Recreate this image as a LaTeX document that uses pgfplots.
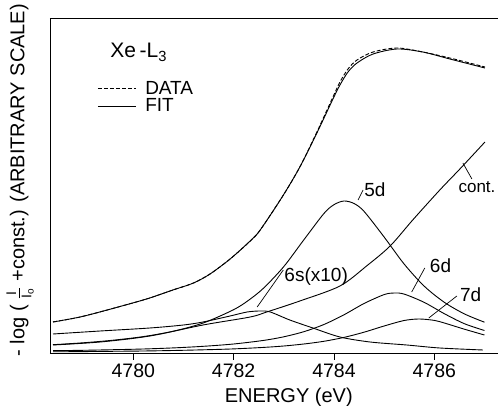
\documentclass[border=0pt]{standalone}
\usepackage{fontspec}
\setmainfont{Liberation Sans}
\usepackage{pgfplots}
\pgfplotsset{compat=1.18}
\newcommand{\fs}[1]{\fontsize{#1}{#1}\selectfont}
\begin{document}
\begin{tikzpicture}
\useasboundingbox (-50pt,-53pt) rectangle (448pt,353pt);
\begin{axis}[
  scale only axis, width=448pt, height=335pt,
  xmin=4778.34, xmax=4787.27, ymin=0, ymax=335,
  axis x line*=box, axis y line*=left,
  axis line style={line width=0.8pt},
  xtick={4780,4782,4784,4786}, xtick pos=bottom,
  tick align=outside, major tick length=7pt,
  tick style={line width=0.8pt, black},
  ytick=\empty,
  /pgf/number format/assume math mode=true,
  /pgf/number format/1000 sep={},
  xticklabel style={font=\fs{19.5}},
  xlabel={ENERGY (eV)},
  xlabel style={font=\fs{20}, at={(axis description cs:0.533,0)}, anchor=north, inner sep=0pt, yshift=-35pt},
  ylabel={- log ( $\frac{\mathrm{I}}{\mathrm{I}_{\mathrm{o}}}$ +const.) (ARBITRARY SCALE)},
  ylabel style={font=\fs{20}, at={(axis description cs:-0.036,0.516)}, anchor=south, inner sep=0pt},
  legend style={at={(axis cs:4779.28,273)}, anchor=north west, draw=none, fill=none,
    font=\fs{19}, inner sep=0pt, row sep=1pt, nodes={inner sep=1pt},
    /tikz/every odd column/.append style={column sep=8pt}},
  legend cell align=left,
  legend image code/.code={\draw[#1] (0pt,0pt) -- (38pt,0pt);},
  every axis plot/.append style={line width=0.9pt, black, no markers},
]
% DATA (dashed)
\addplot[smooth, dash pattern=on 4pt off 2pt] coordinates {
(4778.40,31) (4778.94,36) (4779.48,43) (4780.13,52) (4780.33,55) (4780.79,63)
(4781.20,70) (4781.53,79) (4781.93,94) (4782.33,112) (4782.53,123) (4782.98,157)
(4783.32,186) (4783.66,221) (4783.98,256) (4784.12,271) (4784.28,284) (4784.46,293)
(4784.78,301) (4785.26,305) (4785.77,301) (4786.31,295) (4787.01,286)};
\addlegendentry{DATA}
% FIT (solid)
\addplot[smooth] coordinates {
(4778.40,31) (4778.94,36) (4779.48,43) (4780.13,52) (4780.33,55) (4780.79,63)
(4781.20,70) (4781.53,79) (4781.93,94) (4782.33,112) (4782.53,123) (4782.98,157)
(4783.32,186) (4783.66,220) (4783.98,254) (4784.12,268) (4784.28,281) (4784.46,290)
(4784.78,299) (4785.26,304) (4785.77,301) (4786.31,294) (4787.01,285)};
\addlegendentry{FIT}
% 5d
\addplot[smooth, forget plot] coordinates {
(4778.4,8.3) (4779.0,10.2) (4779.6,12.8) (4780.2,16.4) (4780.8,21.8) (4781.4,30.1)
(4782.0,43.3) (4782.3,52.8) (4782.6,65.0) (4783.0,86.4) (4783.4,113.2) (4783.8,139.5)
(4784.0,148.3) (4784.2,152.0) (4784.4,149.5) (4784.6,141.6) (4785.0,116.0) (4785.4,88.9)
(4785.8,66.8) (4786.2,50.7) (4786.6,39.1) (4787.0,30.8)};
% 6d
\addplot[smooth, forget plot] coordinates {
(4778.4,2.3) (4779.0,2.7) (4779.6,3.3) (4780.2,4.0) (4780.8,5.1) (4781.4,6.7)
(4782.0,9.0) (4782.6,12.6) (4783.0,16.2) (4783.4,21.3) (4783.8,28.5) (4784.2,38.2)
(4784.6,49.5) (4785.0,58.4) (4785.2,60.0) (4785.4,58.9) (4785.8,50.6) (4786.2,39.3)
(4786.6,29.3) (4787.0,22.5)};
% 7d
\addplot[smooth, forget plot] coordinates {
(4778.4,1.2) (4779.0,1.4) (4779.6,1.7) (4780.2,2.0) (4780.8,2.5) (4781.4,3.2)
(4782.0,4.1) (4782.6,5.6) (4783.0,7.0) (4783.4,9.0) (4783.8,11.7) (4784.2,15.6)
(4784.6,20.8) (4785.0,27.0) (4785.4,32.5) (4785.7,34.0) (4786.0,32.6) (4786.2,30.0)
(4786.6,23.8) (4787.0,18.0)};
% 6s (x10)
\addplot[smooth, forget plot] coordinates {
(4778.40,19) (4779.34,22) (4780.33,25) (4781.00,28) (4781.39,31) (4781.93,37)
(4782.27,41) (4782.53,42) (4782.73,41) (4783.12,33) (4783.58,25) (4784.12,16)
(4784.72,11) (4785.45,8) (4786.11,5) (4786.97,3)};
% cont.
\addplot[smooth, forget plot] coordinates {
(4778.40,8) (4779.34,11) (4780.33,17) (4781.39,28) (4782.33,36) (4782.66,41)
(4783.32,52) (4784.12,67) (4784.65,87) (4785.12,107) (4785.57,133) (4786.11,163)
(4786.51,184) (4787.01,211)};

% annotations
\node[anchor=base west, font=\fs{21}, inner sep=0pt] at (axis cs:4779.54,295) {Xe\,-L\textsubscript{3}};
\draw[line width=0.7pt] (axis cs:4784.48,153) -- (axis cs:4784.58,163);
\node[anchor=base west, font=\fs{19}, inner sep=0pt] at (axis cs:4784.60,156) {5d};
\draw[line width=0.7pt] (axis cs:4786.57,190) -- (axis cs:4786.75,174);
\node[anchor=base west, font=\fs{17}, inner sep=0pt] at (axis cs:4786.48,160) {cont.};
\draw[line width=0.7pt] (axis cs:4782.99,83) -- (axis cs:4782.47,46);
\node[anchor=base west, font=\fs{19}, inner sep=0pt] at (axis cs:4783.01,71) {6s(x10)};
\draw[line width=0.7pt] (axis cs:4785.81,85) -- (axis cs:4785.55,61);
\node[anchor=base west, font=\fs{19}, inner sep=0pt] at (axis cs:4785.91,80) {6d};
\draw[line width=0.7pt] (axis cs:4786.45,57) -- (axis cs:4785.89,35);
\node[anchor=base west, font=\fs{19}, inner sep=0pt] at (axis cs:4786.51,51) {7d};
\end{axis}
\end{tikzpicture}
\end{document}
